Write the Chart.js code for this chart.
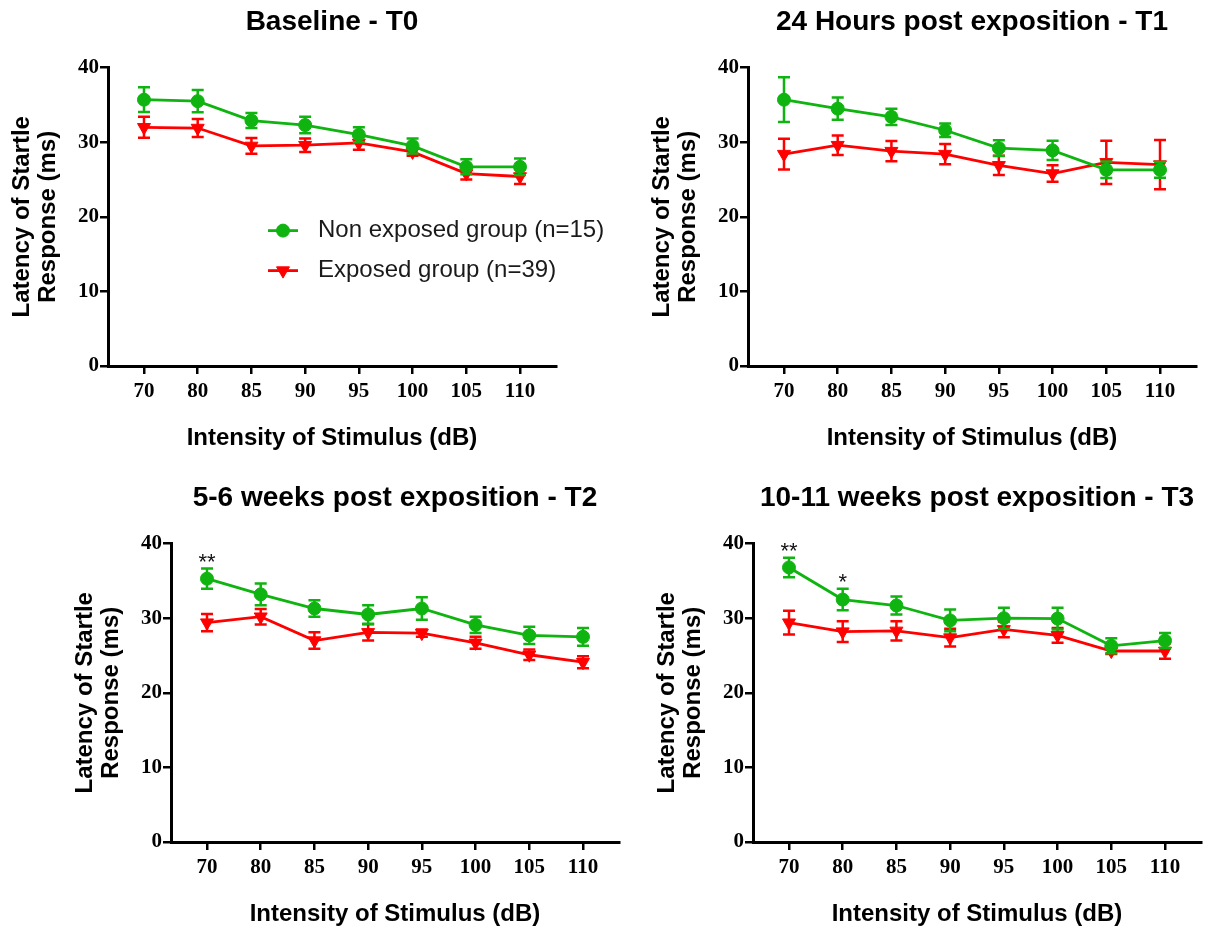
<!DOCTYPE html>
<html>
<head>
<meta charset="utf-8">
<script src="https://cdn.jsdelivr.net/npm/chart.js@4/dist/chart.umd.min.js"></script>
<style>
  html, body { margin: 0; padding: 0; background: #fff; overflow: hidden; width: 1208px; height: 926px; }
  canvas { position: absolute; }
</style>
</head>
<body>
<canvas id="t0" width="620" height="450" style="left:0px;top:0px"></canvas>
<canvas id="t1" width="620" height="450" style="left:640px;top:0px"></canvas>
<canvas id="t2" width="620" height="450" style="left:63px;top:476px"></canvas>
<canvas id="t3" width="620" height="450" style="left:645px;top:476px"></canvas>
<script>
const categories = ['70', '80', '85', '90', '95', '100', '105', '110'];
const yTicks = [0, 10, 20, 30, 40];

// Baseline - T0
const t0NonMean = [35.7, 35.5, 32.9, 32.3, 31.0, 29.5, 26.7, 26.7];
const t0NonSem  = [1.65, 1.5, 1.0, 1.1, 1.0, 1.0, 1.0, 1.1];
const t0ExpMean = [32.0, 31.9, 29.5, 29.6, 29.9, 28.7, 25.8, 25.4];
const t0ExpSem  = [1.4, 1.2, 1.05, 0.9, 0.9, 0.5, 0.8, 1.0];
const t0Sig     = ['', '', '', '', '', '', '', ''];

// 24 hours - T1
const t1NonMean = [35.7, 34.5, 33.4, 31.6, 29.2, 28.9, 26.3, 26.3];
const t1NonSem  = [3.0, 1.5, 1.1, 0.9, 1.05, 1.3, 1.1, 1.05];
const t1ExpMean = [28.4, 29.6, 28.8, 28.4, 26.9, 25.8, 27.3, 27.0];
const t1ExpSem  = [2.05, 1.3, 1.35, 1.35, 1.3, 1.1, 2.9, 3.3];
const t1Sig     = ['', '', '', '', '', '', '', ''];

// 5-6 weeks - T2
const t2NonMean = [35.3, 33.2, 31.3, 30.5, 31.3, 29.1, 27.7, 27.5];
const t2NonSem  = [1.35, 1.45, 1.1, 1.25, 1.5, 1.1, 1.15, 1.2];
const t2ExpMean = [29.4, 30.2, 27.0, 28.1, 28.0, 26.7, 25.1, 24.1];
const t2ExpSem  = [1.15, 1.05, 1.1, 1.1, 0.5, 0.8, 0.7, 0.8];
const t2Sig     = ['**', '', '', '', '', '', '', ''];

// 10-11 weeks - T3
const t3NonMean = [36.8, 32.5, 31.7, 29.7, 30.0, 29.95, 26.3, 27.0];
const t3NonSem  = [1.3, 1.45, 1.2, 1.45, 1.4, 1.45, 1.0, 1.0];
const t3ExpMean = [29.4, 28.2, 28.3, 27.4, 28.5, 27.7, 25.6, 25.6];
const t3ExpSem  = [1.6, 1.4, 1.3, 1.2, 1.05, 1.0, 0.4, 1.05];
const t3Sig     = ['**', '*', '', '', '', '', '', ''];

const GREEN = '#10b410';
const RED = '#ff0000';
const SANS = '"Liberation Sans", Arial, sans-serif';
const SERIF = '"Liberation Serif", "Times New Roman", serif';

// vertical SEM bars with caps, drawn right after each dataset
const errorBars = {
    id: 'errorBars',
    afterDatasetDraw(chart, args, opts) {
        const ds = chart.data.datasets[args.index];
        const y = chart.scales.y;
        const ctx = chart.ctx;
        ctx.save();
        ctx.strokeStyle = ds.borderColor;
        ctx.lineWidth = opts.lineWidth;
        args.meta.data.forEach((pt, i) => {
            const m = ds.data[i].y;
            const e = ds.sem[i];
            const top = y.getPixelForValue(m + e);
            const bot = y.getPixelForValue(m - e);
            ctx.beginPath();
            ctx.moveTo(pt.x, top); ctx.lineTo(pt.x, bot);
            ctx.moveTo(pt.x - opts.capWidth, top); ctx.lineTo(pt.x + opts.capWidth, top);
            ctx.moveTo(pt.x - opts.capWidth, bot); ctx.lineTo(pt.x + opts.capWidth, bot);
            ctx.stroke();
        });
        ctx.restore();
    }
};

// significance asterisks above the non exposed group
const sigStars = {
    id: 'sigStars',
    afterDatasetsDraw(chart, args, opts) {
        const ds = chart.data.datasets[0];
        const meta = chart.getDatasetMeta(0);
        const y = chart.scales.y;
        const ctx = chart.ctx;
        ctx.save();
        ctx.fillStyle = '#111';
        ctx.font = opts.font;
        ctx.textAlign = 'center';
        ctx.textBaseline = 'alphabetic';
        opts.labels.forEach((txt, i) => {
            if (!txt) return;
            const top = y.getPixelForValue(ds.data[i].y + ds.sem[i]);
            ctx.fillText(txt, meta.data[i].x, top + opts.offset);
        });
        ctx.restore();
    }
};

// legend drawn inside the plot: line segment + marker + label
const lineLegend = {
    id: 'lineLegend',
    afterDraw(chart, args, opts) {
        if (!opts.display) return;
        const {ctx, chartArea} = chart;
        chart.data.datasets.forEach((ds, i) => {
            const x0 = chartArea.left + opts.x;
            const y0 = chartArea.top + opts.y + i * opts.rowGap;
            ctx.save();
            ctx.strokeStyle = ds.borderColor;
            ctx.lineWidth = ds.borderWidth;
            ctx.beginPath();
            ctx.moveTo(x0, y0);
            ctx.lineTo(x0 + opts.lineLength, y0);
            ctx.stroke();
            ctx.fillStyle = ds.pointBackgroundColor;
            ctx.strokeStyle = ds.pointBorderColor;
            ctx.lineWidth = 1;
            Chart.helpers.drawPoint(ctx, {
                pointStyle: ds.pointStyle,
                rotation: ds.pointRotation,
                radius: ds.pointRadius,
                borderWidth: 1
            }, x0 + opts.lineLength / 2, y0);
            ctx.fillStyle = opts.color;
            ctx.font = opts.font;
            ctx.textAlign = 'left';
            ctx.textBaseline = 'middle';
            ctx.fillText(ds.label, x0 + opts.textOffset, y0);
            ctx.restore();
        });
    }
};

const toPoints = (vals) => vals.map((v, i) => ({x: i, y: v}));

function makePanel(canvasId, title, nonMean, nonSem, expMean, expSem, sig, showLegend) {
    const ctx = document.getElementById(canvasId).getContext('2d');
    return new Chart(ctx, {
        type: 'line',
        data: {
            datasets: [{
                label: 'Non exposed group (n=15)',
                data: toPoints(nonMean),
                sem: nonSem,
                borderColor: GREEN,
                backgroundColor: GREEN,
                pointBackgroundColor: GREEN,
                pointBorderColor: GREEN,
                borderWidth: 2.8,
                pointStyle: 'circle',
                pointRotation: 0,
                pointRadius: 6.5,
                pointBorderWidth: 1,
                tension: 0
            }, {
                label: 'Exposed group (n=39)',
                data: toPoints(expMean),
                sem: expSem,
                borderColor: RED,
                backgroundColor: RED,
                pointBackgroundColor: RED,
                pointBorderColor: RED,
                borderWidth: 2.8,
                pointStyle: 'triangle',
                pointRotation: 180,
                pointRadius: 7.5,
                pointBorderWidth: 1,
                tension: 0
            }]
        },
        options: {
            responsive: false,
            animation: false,
            devicePixelRatio: 1,
            events: [],
            layout: { padding: { left: 0, right: 64, top: 0, bottom: 0 } },
            scales: {
                x: {
                    type: 'linear',
                    min: -0.67,
                    max: 7.67,
                    afterBuildTicks: (scale) => { scale.ticks = categories.map((c, i) => ({value: i})); },
                    afterFit: (scale) => { scale.height = 84; },
                    ticks: {
                        callback: (v) => categories[v],
                        color: '#000',
                        font: { family: SERIF, size: 21, weight: 'bold' },
                        padding: 5,
                        maxRotation: 0,
                        autoSkip: false
                    },
                    grid: { drawOnChartArea: false, color: '#000', lineWidth: 2.5, tickLength: 8 },
                    border: { color: '#000', width: 3 },
                    title: {
                        display: true,
                        text: 'Intensity of Stimulus (dB)',
                        color: '#000',
                        font: { family: SANS, size: 24, weight: 'bold', lineHeight: 1.0 },
                        padding: { top: 0, bottom: 0 }
                    }
                },
                y: {
                    min: 0,
                    max: 40,
                    afterBuildTicks: (scale) => { scale.ticks = yTicks.map(v => ({value: v})); },
                    afterFit: (scale) => { scale.width = 108; },
                    ticks: {
                        color: '#000',
                        font: { family: SERIF, size: 21, weight: 'bold' },
                        padding: 1
                    },
                    grid: { drawOnChartArea: false, color: '#000', lineWidth: 2.5, tickLength: 8 },
                    border: { color: '#000', width: 3 },
                    title: {
                        display: true,
                        text: ['Latency of Startle', 'Response (ms)'],
                        color: '#000',
                        font: { family: SANS, size: 24, weight: 'bold', lineHeight: 26 / 24 },
                        padding: { top: 9, bottom: 0 }
                    }
                }
            },
            plugins: {
                legend: { display: false },
                tooltip: { enabled: false },
                title: {
                    display: true,
                    text: title,
                    fullSize: false,
                    color: '#000',
                    font: { family: SANS, size: 28, weight: 'bold' },
                    padding: { top: 5, bottom: 29 }
                },
                errorBars: { lineWidth: 2.5, capWidth: 6 },
                sigStars: { labels: sig, font: '22px ' + SANS, offset: 0 },
                lineLegend: {
                    display: showLegend,
                    x: 160, y: 163, rowGap: 40,
                    lineLength: 30, textOffset: 50,
                    color: '#1a1a1a',
                    font: '24px ' + SANS
                }
            }
        },
        plugins: [errorBars, sigStars, lineLegend]
    });
}

makePanel('t0', 'Baseline - T0', t0NonMean, t0NonSem, t0ExpMean, t0ExpSem, t0Sig, true);
makePanel('t1', '24 Hours post exposition - T1', t1NonMean, t1NonSem, t1ExpMean, t1ExpSem, t1Sig, false);
makePanel('t2', '5-6 weeks post exposition - T2', t2NonMean, t2NonSem, t2ExpMean, t2ExpSem, t2Sig, false);
makePanel('t3', '10-11 weeks post exposition - T3', t3NonMean, t3NonSem, t3ExpMean, t3ExpSem, t3Sig, false);
</script>
</body>
</html>
